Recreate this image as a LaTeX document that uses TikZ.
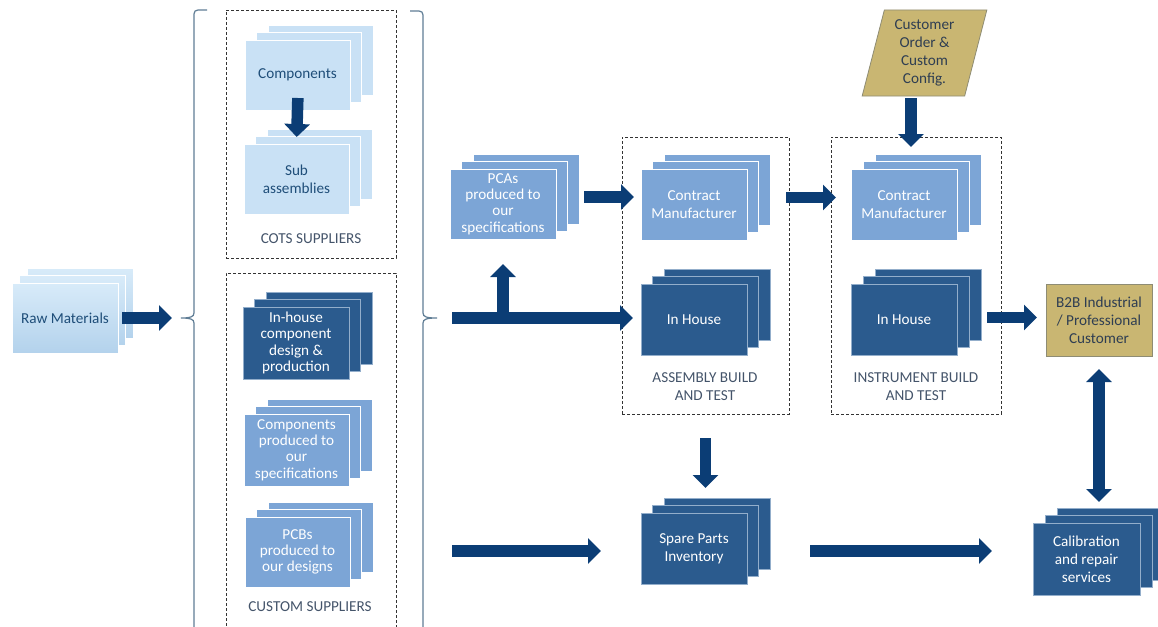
\documentclass[tikz,border=0pt]{standalone}
\usepackage{fontspec}
\setmainfont{Carlito}
\usetikzlibrary{arrows.meta,shapes.geometric}
\definecolor{lb}{HTML}{C9E1F5}
\definecolor{rawtop}{HTML}{D8EBF9}
\definecolor{rawbot}{HTML}{B3D2EC}
\definecolor{mb}{HTML}{7CA5D6}
\definecolor{db}{HTML}{2B5B8E}
\definecolor{dbline}{HTML}{93AECB}
\definecolor{arr}{HTML}{0B3D75}
\definecolor{kh}{HTML}{C9B672}
\definecolor{khline}{HTML}{8E8C74}
\definecolor{ktext}{HTML}{2F3E52}
\definecolor{tdark}{HTML}{1F4E79}
\definecolor{ltext}{HTML}{44546A}
\definecolor{dashc}{HTML}{333333}
\definecolor{bracec}{HTML}{5F7D95}

% #1 layer shift, #2 name, #3 style, #4 x1, #5 y1, #6 x2, #7 y2, #8 text
\newcommand\stk[8][11.5]{%
  \path[#3] ({#4+2*#1},{#5-15}) rectangle ({#6+2*#1},{#7-15});
  \path[#3] ({#4+#1},{#5-7.5}) rectangle ({#6+#1},{#7-7.5});
  \node[#3, anchor=north west, minimum width={(#6-#4)*1pt}, minimum height={(#7-#5)*1pt}] (#2) at (#4,#5) {#8};
}

\begin{document}
\begin{tikzpicture}[x=1pt,y=-1pt,
  every node/.style={inner sep=1pt, outer sep=0pt, font=\fontsize{15.2}{18}\selectfont},
  lbox/.style={fill=lb, draw=white, line width=0.9pt, text=tdark, align=center},
  rbox/.style={top color=rawtop, bottom color=rawbot, draw=white, line width=0.9pt, text=tdark, align=center},
  mbox/.style={fill=mb, draw=white, line width=0.9pt, text=white, align=center},
  dkbox/.style={fill=db, draw=dbline, line width=0.8pt, text=white, align=center},
  kbox/.style={fill=kh, draw=khline, line width=0.8pt, text=ktext, align=center},
  tight/.style={font=\fontsize{15.2}{16.3}\selectfont},
  grp/.style={draw=dashc, dash pattern=on 3pt off 2pt, line width=0.8pt, anchor=north west},
  lbl/.style={text=ltext, align=center},
  bigarrow/.style={draw=arr, line width=11.5pt, -{Triangle[width=25pt,length=13pt]}},
  dblarrow/.style={draw=arr, line width=11.5pt, {Triangle[width=25pt,length=13pt]}-{Triangle[width=25pt,length=13pt]}},
  brace/.style={draw=bracec, line width=1.2pt}
]
\useasboundingbox (0,0) rectangle (1158,626);
\clip (0,0) rectangle (1158,626);

% group frames
\node[grp, minimum width=170pt, minimum height=248pt] (cots) at (226,10) {};
\node[grp, minimum width=170pt, minimum height=380pt] (custom) at (226,273) {};
\node[grp, minimum width=167pt, minimum height=277pt] (asm) at (622,137) {};
\node[grp, minimum width=170pt, minimum height=277pt] (inst) at (831,137) {};

\node[lbl] (cotsl) at (311,239) {COTS SUPPLIERS};
\node[lbl] (custl) at (310,607) {CUSTOM SUPPLIERS};
\node[lbl] (asml) at (705,387) {ASSEMBLY BUILD\\AND TEST};
\node[lbl] (instl) at (916,387) {INSTRUMENT BUILD\\AND TEST};

% braces
\draw[brace] (207,10) -- (198,10) .. controls (195.5,10) and (194,11.5) .. (194,14) -- (194,313)
  .. controls (194,317) and (190,318) .. (181,318) .. controls (190,318) and (194,319) .. (194,323) -- (194,640);
\draw[brace] (410,11) -- (419,11) .. controls (421.5,11) and (423,12.5) .. (423,15) -- (423,313)
  .. controls (423,317) and (427,318) .. (437,318) .. controls (427,318) and (423,319) .. (423,323) -- (423,640);
\coordinate (lbt) at (181,318);
\coordinate (rbt) at (437,318);
\coordinate (lowst) at (452,551);

% stacks
\stk[7.5]{raw}{rbox}{12}{283}{118}{353}{Raw Materials}
\stk{comp}{lbox}{245}{40}{350}{110}{Components}
\stk{sub}{lbox}{244}{144}{349}{214}{Sub\\assemblies}
\stk{ihc}{dkbox,tight}{243}{307}{349}{379}{In-house\\component\\design \&\\production}
\stk{cpr}{mbox,tight}{244}{414}{349}{486}{Components\\produced to\\our\\specifications}
\stk{pcb}{mbox,tight}{245}{517}{350}{587}{PCBs\\produced to\\our designs}
\stk{pcas}{mbox,tight}{450}{169}{556}{239}{PCAs\\produced to\\our\\specifications}
\stk{cma}{mbox}{641}{169}{747}{240}{Contract\\Manufacturer}
\stk{iha}{dkbox}{641}{284}{747}{355}{In House}
\stk[12]{cmi}{mbox}{851}{169}{957}{240}{Contract\\Manufacturer}
\stk[12]{ihi}{dkbox}{851}{284}{957}{355}{In House}
\stk{spare}{dkbox}{641}{513}{747}{584}{Spare Parts\\Inventory}
\stk[12]{cal}{dkbox}{1033}{523}{1140}{595}{Calibration\\and repair\\services}

\node[kbox, anchor=north west, minimum width=106pt, minimum height=72pt] (b2b) at (1046,284)
  {B2B Industrial\\/ Professional\\Customer};
\node[kbox, trapezium, trapezium left angle=76, trapezium right angle=104, trapezium stretches=true,
  minimum width=125pt, minimum height=86pt] (cust) at (924.5,53) {Customer\\Order \&\\Custom\\Config.};

% arrows
\draw[bigarrow, shorten <=4pt, shorten >=9pt] (raw.east) -- (lbt);
\draw[bigarrow, shorten <=-12pt, shorten >=7pt] (comp.south) -- (sub.north);
\draw[bigarrow, shorten <=15pt, shorten >=8pt] (rbt) -- (rbt -| iha.west);
\draw[bigarrow, shorten >=25pt] (rbt -| pcas.south) -- (pcas.south);
\coordinate (pa) at ([yshift=7pt]pcas.east);
\draw[bigarrow, shorten <=28pt, shorten >=7pt] (pa) -- (pa -| cma.west);
\coordinate (ma) at ([yshift=7pt]cma.east);
\draw[bigarrow, shorten <=39pt, shorten >=15pt] (ma) -- (ma -| cmi.west);
\coordinate (ca) at ([xshift=-13.5pt]cust.south);
\draw[bigarrow, shorten <=2pt, shorten >=22pt] (ca) -- (ca |- cmi.north);
\coordinate (ia) at ([yshift=2pt]ihi.east);
\draw[bigarrow, shorten <=30pt, shorten >=9pt] (ia) -- (ia -| b2b.west);
\draw[bigarrow, shorten <=24pt, shorten >=25pt] (asm.south) -- (asm.south |- spare.north);
\draw[bigarrow, shorten >=40pt] (lowst) -- (lowst -| spare.west);
\draw[bigarrow, shorten <=63pt, shorten >=41pt] (lowst -| spare.east) -- (lowst -| cal.west);
\draw[dblarrow, shorten <=13pt, shorten >=21pt] (b2b.south) -- (b2b.south |- cal.north);
\end{tikzpicture}
\end{document}
